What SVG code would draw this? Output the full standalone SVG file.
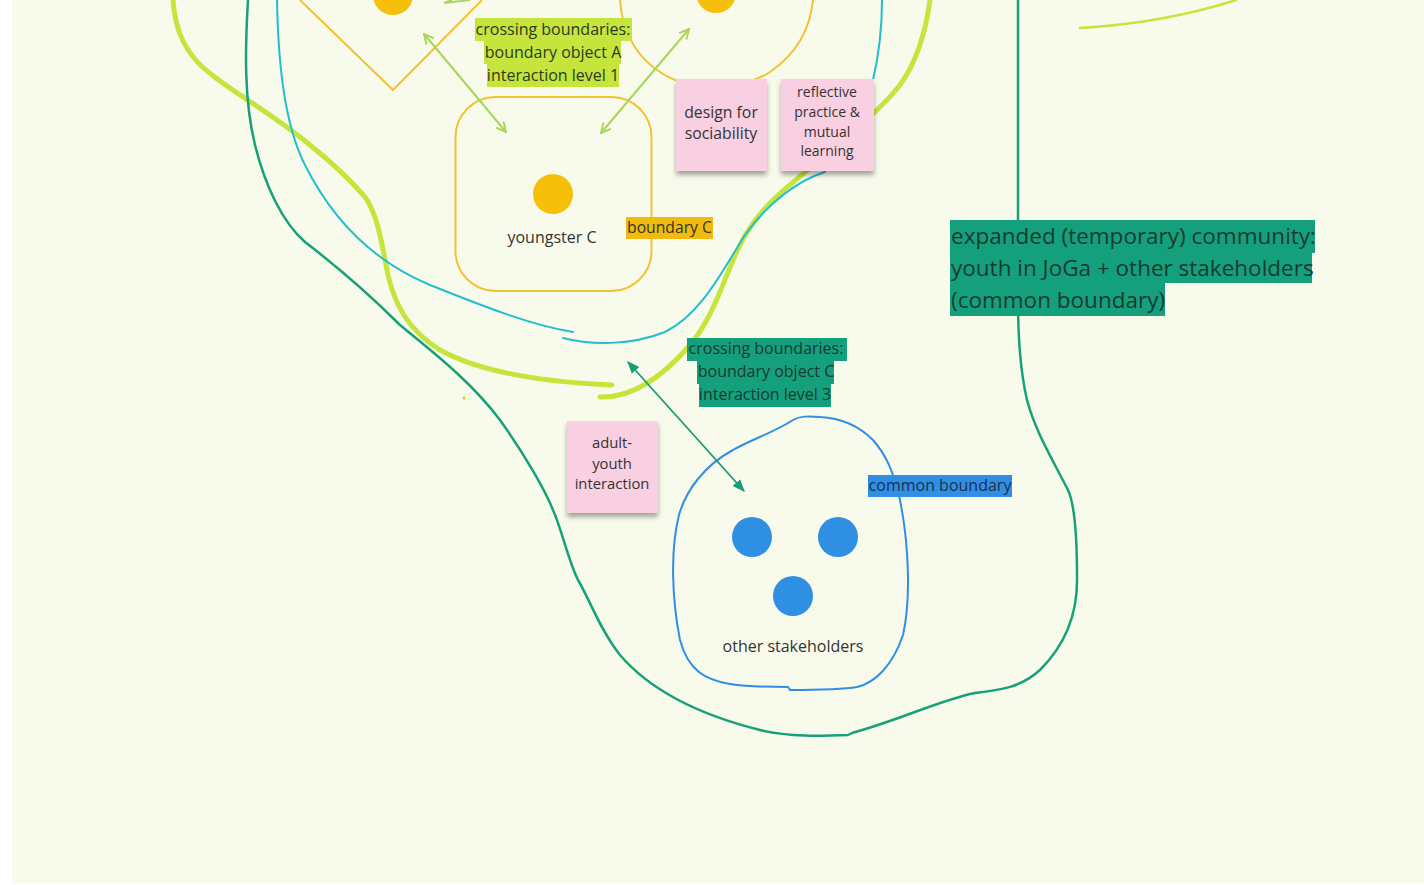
<svg xmlns="http://www.w3.org/2000/svg" width="1424" height="885" viewBox="0 0 1424 885">
<style>
.t{font-family:"Open Sans","Liberation Sans",sans-serif;fill:#333;text-anchor:middle}
.hl{font-family:"Open Sans","Liberation Sans",sans-serif;fill:#2b3a22;text-anchor:middle;font-size:16px}
.ylw{fill:none;stroke:#f2c232;stroke-width:2}
.dot{fill:#f5bf0a}
.blue{fill:#2f8fe3}
.note{fill:#f9d0e2;filter:url(#sh)}
.lime{fill:none;stroke:#c6e53c;stroke-width:5;stroke-linecap:round}
.cyan{fill:none;stroke:#22bed0;stroke-width:2;stroke-linecap:round}
.dg{fill:none;stroke:#17a07a;stroke-width:2.5;stroke-linejoin:round}
.arrL{fill:none;stroke:#a9d65a;stroke-width:2;marker-start:url(#hL);marker-end:url(#hL)}
.arrG{fill:none;stroke:#1a9a78;stroke-width:1.8;marker-start:url(#hG);marker-end:url(#hG)}
.big{font-family:"Open Sans","Liberation Sans",sans-serif;font-size:22.5px;fill:#173a30}
</style>
<defs>
<filter id="sh" x="-20%" y="-20%" width="140%" height="150%">
<feDropShadow dx="0" dy="4" stdDeviation="2.5" flood-color="#000" flood-opacity="0.35"/>
</filter>
<marker id="hL" viewBox="0 0 10 10" refX="9" refY="5" markerWidth="6" markerHeight="6" orient="auto-start-reverse" markerUnits="strokeWidth">
<path d="M1,1 L9,5 L1,9" fill="none" stroke="#a9d65a" stroke-width="1.6"/>
</marker>
<marker id="hG" viewBox="0 0 10 10" refX="9" refY="5" markerWidth="7" markerHeight="7" orient="auto-start-reverse" markerUnits="strokeWidth">
<path d="M0,1 L10,5 L0,9 Z" fill="#1a9a78"/>
</marker>
</defs>
<rect width="1424" height="885" fill="#ffffff"/>
<rect x="12" y="0" width="1412" height="883" fill="#f8fbec"/>

<g id="boundaries">
<path class="lime" d="M173,0 C175,30 185,55 212,75 C240,97 270,112 310,145 C335,165 352,182 365,197 C378,215 382,245 388,275 C395,305 408,330 440,350 C480,372 540,382 612,385"/>
<path class="lime" d="M600,397 C630,398 660,380 690,345 C715,315 725,275 740,245 C760,205 790,185 820,160 C855,130 880,110 900,85 C918,60 926,30 930,0"/>
<path fill="none" stroke="#c6e53c" stroke-width="2.5" stroke-linecap="round" d="M1080,28 C1130,25 1180,18 1236,0"/>
<path class="cyan" d="M277,0 C278,50 282,120 305,165 C330,215 370,260 430,285 C480,305 530,325 573,332"/>
<path class="cyan" d="M563,338 C590,345 630,346 665,332 C700,315 720,275 745,235 C770,200 800,180 825,172"/>
<path class="cyan" d="M873,80 C880,50 882,25 882,0"/>
<path class="dg" d="M248,0 C245,50 244,100 255,145 C265,185 282,222 305,242 C335,265 370,295 400,325 C430,350 470,380 500,420 C525,455 545,490 553,510 C562,530 568,560 578,580 C590,600 600,630 620,655 C650,690 700,715 760,730 C790,737 820,736 848,735 L852,733 C900,720 940,700 975,693 C1000,690 1020,688 1040,670 C1060,650 1078,620 1077,577 C1077,540 1075,505 1068,490 C1050,455 1035,430 1027,400 C1020,370 1018,330 1018,300 L1018,0"/>
<path fill="none" stroke="#2f8fe3" stroke-width="2" d="M793,420 C775,432 750,440 733,450 C705,465 686,490 679,515 C670,550 672,600 680,640 C688,670 705,680 730,684 C750,687 770,687 788,687 L790,690 C810,690 840,690 857,687 C875,683 893,665 903,635 C911,600 909,545 900,500 C893,470 886,455 873,440 C858,425 840,418 820,417 C808,416 800,416 793,420 Z"/>
</g>

<g id="node-A">
<path class="ylw" d="M300,0 L393,90 L482,0"/>
<circle class="dot" cx="393" cy="-5" r="20"/>
</g>

<g id="node-B">
<path class="ylw" d="M620,0 C622,35 640,65 675,80 C705,92 745,88 770,72 C795,55 810,30 813,0"/>
<circle class="dot" cx="716" cy="-7" r="20"/>
</g>

<g id="node-youngster-C">
<rect class="ylw" x="455.5" y="97" width="196" height="194" rx="40"/>
<circle class="dot" cx="553" cy="194" r="20"/>
<text class="t" x="552" y="243" font-size="16">youngster C</text>
<rect x="626" y="217" width="87" height="22" fill="#f2b90f"/>
<text class="hl" x="669.5" y="233" style="font-size:15.7px">boundary C</text>
</g>

<circle cx="464" cy="398" r="1.5" fill="#f5bf0a"/>

<g id="node-stakeholders">
<circle class="blue" cx="752" cy="537" r="20"/>
<circle class="blue" cx="838" cy="537" r="20"/>
<circle class="blue" cx="793" cy="596" r="20"/>
<text class="t" x="793" y="652" font-size="16">other stakeholders</text>
<rect x="868" y="475" width="144" height="22" fill="#2f8fe3"/>
<text class="hl" x="940" y="491" style="fill:#1d3050">common boundary</text>
</g>

<g id="connectors">
<path class="arrL" d="M424,34 L506,132"/>
<path class="arrL" d="M689,29 L601,133"/>
<path fill="none" stroke="#a9d65a" stroke-width="2" d="M444,3 L470,0 M444,3 L452,0"/>
<path class="arrG" d="M628,362 L744,491"/>
</g>

<g id="label-level1">
<rect x="475" y="18" width="157" height="23" fill="#c6e53c"/>
<rect x="484" y="41" width="137" height="23" fill="#c6e53c"/>
<rect x="487" y="64" width="132" height="23" fill="#c6e53c"/>
<text class="hl" x="553" y="35">crossing boundaries:</text>
<text class="hl" x="553" y="58">boundary object A</text>
<text class="hl" x="553" y="81">interaction level 1</text>
</g>

<g id="label-level3">
<rect x="687" y="338" width="160" height="23" fill="#14a07c"/>
<rect x="697" y="361" width="137" height="23" fill="#14a07c"/>
<rect x="699" y="384" width="132" height="23" fill="#14a07c"/>
<text class="hl" x="766" y="354" style="fill:#173a30">crossing boundaries:</text>
<text class="hl" x="766" y="377" style="fill:#173a30">boundary object C</text>
<text class="hl" x="765" y="400" style="fill:#173a30">interaction level 3</text>
</g>

<g id="label-community">
<rect x="950" y="220" width="365" height="33" fill="#14a07c"/>
<rect x="950" y="253" width="362" height="30" fill="#14a07c"/>
<rect x="950" y="283" width="215" height="33" fill="#14a07c"/>
<text class="big" x="951" y="244">expanded (temporary) community:</text>
<text class="big" x="951" y="276">youth in JoGa + other stakeholders</text>
<text class="big" x="951" y="308">(common boundary)</text>
</g>

<g id="note-sociability">
<rect class="note" x="676" y="79" width="91" height="92"/>
<text class="t" x="721" y="118" font-size="15.8">design for</text>
<text class="t" x="721" y="139" font-size="15.8">sociability</text>
</g>

<g id="note-reflective">
<rect class="note" x="781" y="79" width="93" height="92"/>
<text class="t" x="827" y="97" font-size="14">reflective</text>
<text class="t" x="827" y="117" font-size="14">practice &amp;</text>
<text class="t" x="827" y="137" font-size="14">mutual</text>
<text class="t" x="827" y="156" font-size="14">learning</text>
</g>

<g id="note-adult-youth">
<rect class="note" x="567" y="421" width="91" height="92"/>
<text class="t" x="612" y="448" font-size="14.8">adult-</text>
<text class="t" x="612" y="469" font-size="14.8">youth</text>
<text class="t" x="612" y="489" font-size="14.8">interaction</text>
</g>
</svg>
